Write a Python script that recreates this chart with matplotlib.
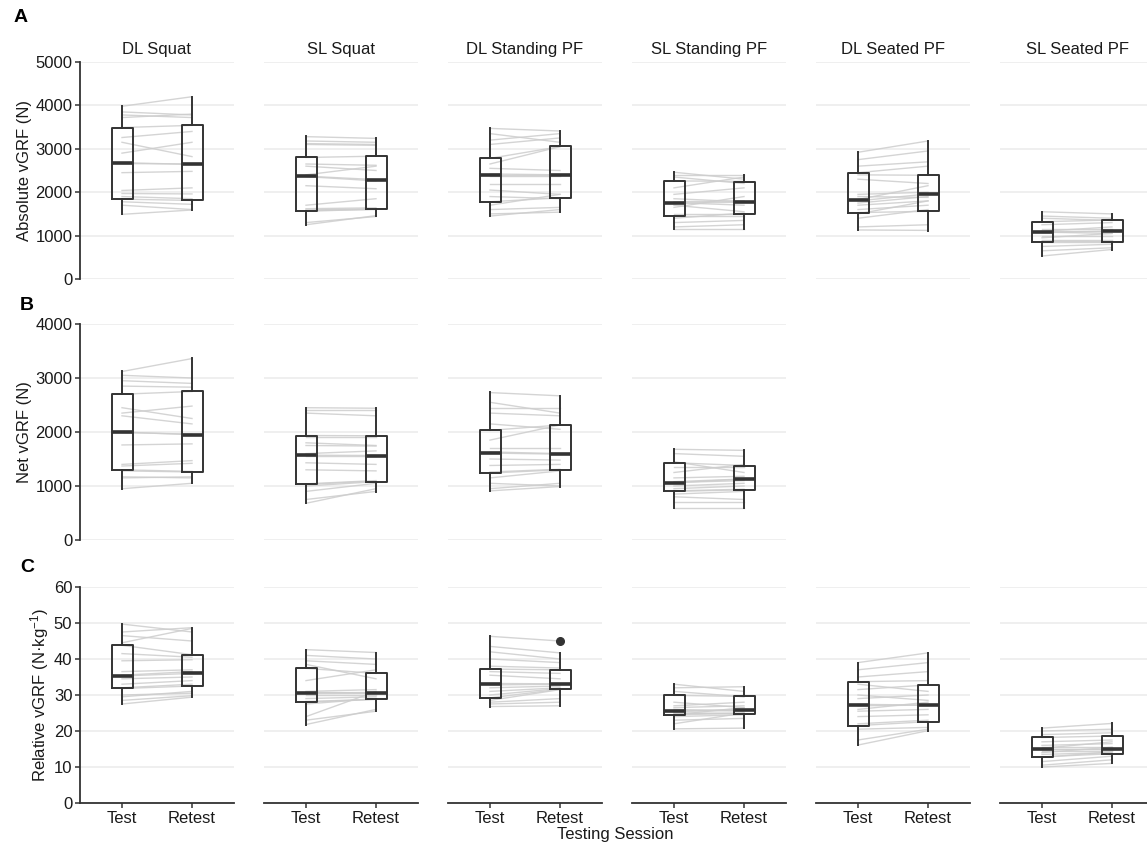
import matplotlib.pyplot as plt
from matplotlib.ticker import MultipleLocator

plt.rcParams['font.family'] = ['Liberation Sans', 'DejaVu Sans']
plt.rcParams['mathtext.fontset'] = 'custom'
plt.rcParams['mathtext.rm'] = 'Liberation Sans'
plt.rcParams['mathtext.it'] = 'Liberation Sans:italic'

exercises = ['DL Squat', 'SL Squat', 'DL Standing PF', 'SL Standing PF', 'DL Seated PF', 'SL Seated PF']
sessions = ['Test', 'Retest']

# A - absolute vGRF (N), paired per participant
abs_test = [
    [3980, 3850, 3780, 3720, 3490, 3260, 3150, 2900, 2680, 2660, 2450, 2040, 1970, 1900, 1840, 1780, 1700, 1490],
    [3280, 3180, 3120, 3100, 2800, 2650, 2600, 2400, 2370, 2360, 2150, 1700, 1620, 1590, 1580, 1560, 1300, 1250],
    [3470, 3350, 3200, 3100, 2780, 2650, 2550, 2420, 2400, 2380, 2200, 2050, 1900, 1780, 1700, 1600, 1500, 1450],
    [2460, 2400, 2350, 2260, 2100, 1950, 1850, 1780, 1760, 1750, 1700, 1650, 1500, 1450, 1400, 1300, 1200, 1150],
    [2920, 2750, 2600, 2450, 2400, 2300, 1950, 1900, 1830, 1800, 1750, 1700, 1600, 1530, 1500, 1400, 1200, 1130],
    [1550, 1450, 1400, 1320, 1250, 1150, 1100, 1090, 1080, 1070, 1000, 950, 900, 870, 850, 750, 650, 530],
]
abs_retest = [
    [4200, 3780, 3720, 3800, 3540, 3400, 2820, 3150, 2640, 2650, 2480, 2100, 1960, 1850, 1810, 1720, 1600, 1590],
    [3240, 3150, 3100, 3080, 2830, 2620, 2500, 2600, 2290, 2260, 2080, 1850, 1640, 1620, 1600, 1610, 1440, 1460],
    [3410, 3150, 3350, 3250, 3050, 3050, 2500, 2400, 2400, 2380, 2200, 1950, 1850, 1870, 1950, 1650, 1540, 1600],
    [2300, 2400, 2200, 2250, 2350, 2100, 1780, 1800, 1700, 1770, 1550, 1900, 1500, 1450, 1520, 1350, 1250, 1150],
    [3180, 2950, 2700, 2600, 2390, 2200, 2000, 1880, 2150, 1960, 1900, 1800, 1700, 1560, 1800, 1600, 1250, 1120],
    [1500, 1400, 1350, 1360, 1300, 1150, 1200, 1100, 1050, 1100, 1000, 1050, 900, 860, 850, 800, 720, 680],
]
# box summaries: [low whisker, Q1, median, Q3, high whisker]
abs_test_box = [
    [1490, 1840, 2670, 3485, 3977],
    [1246, 1577, 2369, 2807, 3284],
    [1446, 1777, 2400, 2784, 3476],
    [1146, 1453, 1761, 2261, 2461],
    [1130, 1523, 1815, 2445, 2922],
    [531, 861, 1084, 1315, 1553],
]
abs_retest_box = [
    [1590, 1810, 2645, 3540, 4200],
    [1446, 1623, 2276, 2830, 3245],
    [1538, 1861, 2400, 3053, 3414],
    [1146, 1500, 1776, 2245, 2407],
    [1115, 1561, 1961, 2392, 3184],
    [677, 854, 1100, 1353, 1507],
]

# B - net vGRF (N), squats and standing PF only
net_test = [
    [3120, 3050, 2950, 2850, 2700, 2450, 2350, 2300, 2000, 1990, 1760, 1400, 1370, 1300, 1280, 1170, 1150, 950],
    [2450, 2400, 2350, 1935, 1900, 1800, 1750, 1600, 1570, 1560, 1430, 1300, 1040, 1030, 1000, 900, 750, 680],
    [2730, 2550, 2450, 2350, 2150, 2030, 1850, 1700, 1630, 1610, 1500, 1380, 1260, 1240, 1150, 1050, 950, 910],
    [1680, 1600, 1450, 1430, 1350, 1250, 1150, 1080, 1065, 1060, 1000, 950, 910, 900, 850, 800, 700, 590],
]
net_retest = [
    [3360, 3000, 2900, 2830, 2750, 2250, 2480, 2150, 1950, 1960, 1780, 1470, 1420, 1270, 1260, 1150, 1170, 1050],
    [2440, 2400, 2300, 1930, 1900, 1750, 1740, 1650, 1565, 1560, 1400, 1280, 1100, 1090, 1080, 1050, 900, 950],
    [2670, 2350, 2450, 2300, 2050, 2130, 2130, 1700, 1600, 1590, 1480, 1400, 1310, 1300, 1280, 1000, 1050, 990],
    [1660, 1550, 1250, 1380, 1350, 1400, 1180, 1130, 1100, 1130, 1050, 1000, 940, 930, 900, 750, 700, 590],
]
net_test_box = [
    [946, 1292, 1991, 2695, 3122],
    [680, 1032, 1570, 1935, 2450],
    [909, 1243, 1620, 2034, 2732],
    [587, 903, 1063, 1434, 1682],
]
net_retest_box = [
    [1051, 1261, 1953, 2751, 3363],
    [896, 1082, 1564, 1929, 2436],
    [989, 1304, 1595, 2133, 2671],
    [587, 933, 1131, 1379, 1663],
]

# C - relative vGRF (N/kg)
rel_test = [
    [49.7, 47.5, 46.5, 44.5, 43.8, 41.5, 39.5, 36.5, 35.5, 35.3, 34.5, 33.0, 32.0, 31.8, 30.0, 29.5, 28.5, 27.5],
    [42.6, 41.0, 39.5, 38.5, 37.4, 34.0, 31.0, 30.8, 30.6, 30.4, 30.0, 29.0, 28.2, 28.0, 27.5, 24.0, 23.0, 21.8],
    [46.3, 43.5, 42.0, 40.0, 38.0, 37.2, 36.5, 35.5, 33.2, 32.8, 32.0, 31.0, 30.0, 29.2, 28.5, 28.0, 27.5, 26.8],
    [33.0, 32.0, 31.0, 29.9, 28.0, 27.0, 26.5, 26.0, 25.6, 25.4, 25.0, 24.8, 24.5, 24.5, 24.0, 23.0, 22.0, 20.6],
    [39.0, 37.0, 35.0, 33.7, 33.0, 31.5, 30.0, 29.0, 27.4, 27.0, 26.0, 25.5, 24.0, 22.0, 21.5, 20.5, 17.5, 16.1],
    [20.8, 20.0, 19.0, 18.2, 17.0, 16.0, 15.5, 15.2, 15.0, 15.0, 14.5, 14.0, 13.5, 12.8, 12.7, 11.5, 10.5, 10.0],
]
rel_retest = [
    [47.5, 48.7, 45.0, 48.5, 41.2, 40.5, 39.8, 37.0, 36.5, 36.0, 35.0, 34.0, 33.0, 32.5, 30.5, 31.0, 29.8, 29.4],
    [41.8, 40.0, 38.5, 34.5, 36.0, 37.0, 31.5, 30.5, 30.7, 30.5, 30.0, 29.5, 28.8, 28.8, 29.0, 31.0, 25.5, 26.0],
    [45.0, 41.7, 40.0, 39.0, 37.5, 37.0, 36.0, 34.5, 33.1, 33.0, 32.5, 32.0, 31.8, 31.6, 31.5, 29.0, 28.0, 27.0],
    [31.0, 32.3, 29.5, 29.6, 26.5, 28.0, 27.0, 25.5, 26.0, 25.8, 24.8, 25.0, 24.9, 26.5, 24.5, 23.5, 25.0, 20.8],
    [41.7, 39.0, 36.5, 34.0, 31.0, 32.8, 28.5, 30.0, 27.2, 27.2, 28.0, 26.0, 24.5, 23.0, 22.6, 21.0, 20.5, 20.1],
    [22.1, 20.5, 19.5, 18.6, 17.5, 16.5, 15.5, 17.0, 15.0, 15.0, 14.5, 15.5, 14.0, 13.7, 14.2, 13.0, 12.0, 11.0],
]
rel_test_box = [
    [27.5, 31.9, 35.4, 43.8, 49.7],
    [21.8, 28.1, 30.5, 37.4, 42.6],
    [26.8, 29.2, 33.0, 37.2, 46.3],
    [20.6, 24.5, 25.5, 29.9, 33.0],
    [16.1, 21.5, 27.2, 33.7, 39.0],
    [10.0, 12.7, 15.0, 18.2, 20.8],
]
rel_retest_box = [
    [29.4, 32.5, 36.2, 41.2, 48.7],
    [25.5, 28.8, 30.6, 36.0, 41.8],
    [27.0, 31.6, 33.0, 37.0, 41.7],
    [20.8, 24.8, 25.9, 29.6, 32.3],
    [20.1, 22.6, 27.2, 32.8, 41.7],
    [11.0, 13.7, 15.0, 18.6, 22.1],
]
rel_retest_outliers = [[], [], [45.0], [], [], []]

rows = [
    dict(letter='A', ylabel='Absolute vGRF (N)', top=5000, step=1000,
         test=abs_test, retest=abs_retest, tbox=abs_test_box, rbox=abs_retest_box,
         fliers=[[]] * 6, ypix=(62, 279)),
    dict(letter='B', ylabel='Net vGRF (N)', top=4000, step=1000,
         test=net_test, retest=net_retest, tbox=net_test_box, rbox=net_retest_box,
         fliers=[[]] * 4, ypix=(324, 540)),
    dict(letter='C', ylabel=r'Relative vGRF (N·kg$^{-1}$)', top=60, step=10,
         test=rel_test, retest=rel_retest, tbox=rel_test_box, rbox=rel_retest_box,
         fliers=rel_retest_outliers, ypix=(587, 803)),
]

W, H = 1147, 846
dark = '#333333'
fig = plt.figure(figsize=(W / 100, H / 100), dpi=100)


def box_stats(b, fl=()):
    return dict(whislo=b[0], q1=b[1], med=b[2], q3=b[3], whishi=b[4], fliers=list(fl))


for r, row in enumerate(rows):
    y0, y1 = row['ypix']
    n = len(row['test'])
    for c in range(n):
        x0 = 80 + c * 184
        ax = fig.add_axes([x0 / W, 1 - y1 / H, 154 / W, (y1 - y0) / H])

        # paired lines per participant
        for t, rt in zip(row['test'][c], row['retest'][c]):
            ax.plot([1, 2], [t, rt], color='#cdcdcd', lw=1.0, alpha=0.85, zorder=2)

        stats = [box_stats(row['tbox'][c]), box_stats(row['rbox'][c], row['fliers'][c])]
        ax.bxp(stats, positions=[1, 2], widths=0.3, showcaps=False, patch_artist=False,
               boxprops=dict(color=dark, lw=1.4),
               whiskerprops=dict(color=dark, lw=1.4),
               medianprops=dict(color=dark, lw=2.6),
               flierprops=dict(marker='o', markerfacecolor=dark, markeredgecolor=dark, markersize=5.5),
               zorder=3)

        ax.set_xlim(0.4, 2.6)
        ax.set_ylim(0, row['top'])
        ax.yaxis.set_major_locator(MultipleLocator(row['step']))
        ax.yaxis.grid(True, color='#ebebeb', lw=1.1)
        ax.set_axisbelow(True)
        for s in ['top', 'right']:
            ax.spines[s].set_visible(False)
        for s in ['left', 'bottom']:
            ax.spines[s].set_color(dark)
            ax.spines[s].set_linewidth(1.3)
        ax.tick_params(colors=dark, labelcolor='#1a1a1a', labelsize=12, length=3.5, width=1.1, pad=2)

        if c == 0:
            ax.set_ylabel(row['ylabel'], fontsize=12, color='#1a1a1a', labelpad=2)
        else:
            ax.spines['left'].set_visible(False)
            ax.tick_params(axis='y', left=False, labelleft=False)

        if r == 2:
            ax.set_xticks([1, 2])
            ax.set_xticklabels(sessions, fontsize=12)
        else:
            ax.spines['bottom'].set_visible(False)
            ax.set_xticks([])

        if r == 0:
            ax.set_title(exercises[c], fontsize=12, color='#1a1a1a', pad=6)

    fig.text(14 / W if r == 0 else 20 / W, 1 - (18 if r == 0 else row['ypix'][0] - 19) / H,
             row['letter'], fontsize=14, fontweight='bold', va='center', ha='left')

fig.text(615 / W, 1 - 834 / H, 'Testing Session', fontsize=12, ha='center', va='center', color='#1a1a1a')

plt.savefig('out.png', dpi=100)
